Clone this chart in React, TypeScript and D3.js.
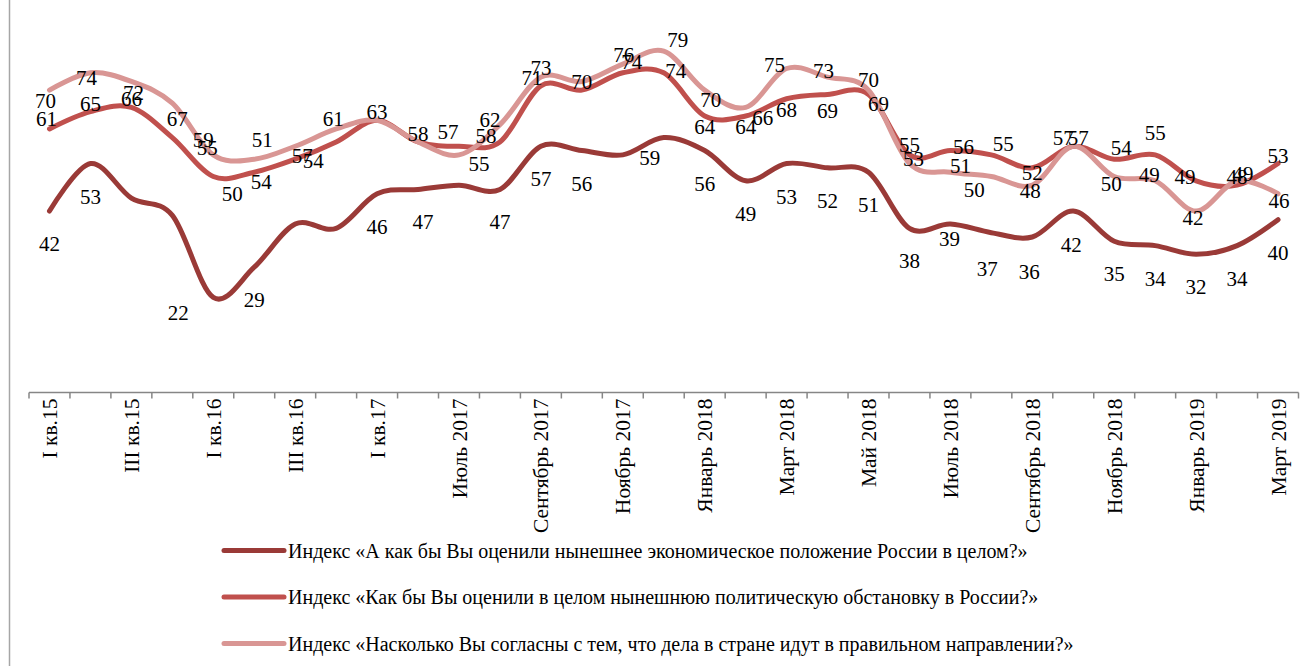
import React from "react";
import * as d3 from "d3";

const categories = [
  "I кв.15", "II кв.15", "III кв.15", "IV кв.15", "I кв.16", "II кв.16", "III кв.16", "IV кв.16",
  "I кв.17", "II кв.17", "Июль 2017", "Август 2017", "Сентябрь 2017", "Октябрь 2017", "Ноябрь 2017",
  "Декабрь 2017", "Январь 2018", "Февраль 2018", "Март 2018", "Апрель 2018", "Май 2018", "Июнь 2018",
  "Июль 2018", "Август 2018", "Сентябрь 2018", "Октябрь 2018", "Ноябрь 2018", "Декабрь 2018",
  "Январь 2019", "Февраль 2019", "Март 2019",
];

const economyValues = [42, 53, 45, 41, 22, 29, 39, 38, 46, 47, 48, 47, 57, 56, 55, 59, 56, 49, 53, 52, 51, 38, 39, 37, 36, 42, 35, 34, 32, 34, 40];
const politicsValues = [61, 65, 66, 59, 50, 51, 54, 58, 63, 58, 57, 58, 71, 70, 74, 74, 64, 64, 68, 69, 69, 55, 56, 55, 52, 57, 54, 55, 49, 48, 53];
const directionValues = [70, 74, 72, 67, 55, 54, 57, 61, 63, 58, 55, 62, 73, 72, 76, 79, 70, 66, 75, 73, 70, 53, 51, 50, 48, 57, 50, 49, 42, 49, 46];

const seriesNames = [
  "Индекс «А как бы Вы оценили нынешнее экономическое положение России в целом?»",
  "Индекс «Как бы Вы оценили в целом нынешнюю политическую обстановку в России?»",
  "Индекс «Насколько Вы согласны с тем, что дела в стране идут в правильном направлении?»",
];

// label styling (relative nudges of value labels, and labels hidden in the original)
const economyLabelDefault: [number, number] = [0, 33];
const economyLabelNudge: Record<number, [number, number]> = {
  4: [-35, 16], 9: [5, 33], 15: [-14, 20], 22: [-1, 15], 23: [-4, 36], 24: [-3, 35], 25: [-2, 34],
};
const economyHidden = [2, 3, 6, 7, 10, 14];

const politicsLabelDefault: [number, number] = [0, -8];
const politicsLabelNudge: Record<number, [number, number]> = {
  0: [-3, -10], 3: [31, 2], 4: [19, 17], 5: [8, -32], 6: [18, 2], 10: [-11, -14], 11: [-14, -6],
  12: [-9, -8], 14: [9, -11], 15: [12, -2], 16: [0, 11], 17: [0, 11], 18: [0, 11], 19: [0, 17],
  20: [10, 10], 21: [0, -10], 22: [13, -4], 23: [12, -11], 24: [0, 5], 25: [-10, -8], 26: [7, -11],
  27: [0, -22], 28: [-11, -4],
};
const politicsHidden = [7];

const directionLabelDefault: [number, number] = [0, 8];
const directionLabelNudge: Record<number, [number, number]> = {
  0: [-4, 11], 1: [-4, 5], 2: [2, 12], 3: [5, 16], 4: [-6, -7], 5: [7, 23], 6: [7, 10], 7: [-3, -10],
  10: [20, 9], 11: [-10, -5], 12: [0, -9], 14: [1, -9], 15: [14, -11], 16: [6, 10], 17: [17, 11],
  18: [-12, -4], 19: [-4, -6], 20: [0, -10], 21: [4, -5], 22: [10, -6], 23: [-17, 13], 24: [-2, 6],
  25: [5, -8], 26: [-3, 7], 27: [-6, -6], 28: [-3, 7], 29: [6, -7], 30: [1, 7],
};
const directionHidden = [8, 9, 13];

const colors = ["#9a3a37", "#c0504d", "#d99694"];

const FONT = "'Liberation Serif', 'Times New Roman', serif";

export default function App() {
  const W = 1312;
  const H = 666;
  const plotLeft = 29;
  const plotRight = 1298.5;
  const y0 = 392.5;

  const x = d3
    .scaleBand<string>()
    .domain(categories)
    .range([plotLeft, plotRight])
    .paddingInner(0)
    .paddingOuter(0);
  const bw = x.bandwidth();
  const cx = (i: number) => (x(categories[i]) as number) + bw / 2;

  const y = d3.scaleLinear().domain([0, 90]).range([y0, y0 - 90 * 4.32]);

  const line = d3
    .line<number>()
    .x((_, i) => cx(i))
    .y((d) => y(d))
    .curve(d3.curveCardinal.tension(0));

  const series = [
    { values: economyValues, def: economyLabelDefault, nudge: economyLabelNudge, hidden: economyHidden },
    { values: politicsValues, def: politicsLabelDefault, nudge: politicsLabelNudge, hidden: politicsHidden },
    { values: directionValues, def: directionLabelDefault, nudge: directionLabelNudge, hidden: directionHidden },
  ];

  const tickPositions = d3.range(categories.length + 1).map((i) => plotLeft + i * bw);

  const legendY = [550.5, 597, 643.5];

  return (
    <svg
      width={W}
      height={H}
      style={{ position: "absolute", left: 0, top: 0, background: "#fff" }}
      fontFamily={FONT}
    >
      <rect x={0} y={0} width={W} height={H} fill="#fff" />
      <line x1={9.5} x2={9.5} y1={0} y2={H} stroke="#a6a6a6" strokeWidth={1.5} />

      {/* axis */}
      <line x1={plotLeft} x2={plotRight} y1={y0} y2={y0} stroke="#868686" strokeWidth={1.5} />
      {tickPositions.map((tx, i) => (
        <line key={"t" + i} x1={tx} x2={tx} y1={y0} y2={y0 + 6} stroke="#868686" strokeWidth={1.5} />
      ))}
      {categories.map((c, i) =>
        i % 2 === 0 ? (
          <text
            key={"c" + i}
            transform={`translate(${cx(i)},${y0 + 6}) rotate(-90)`}
            textAnchor="end"
            dy="0.35em"
            fontSize={21.5}
            fill="#000"
          >
            {c}
          </text>
        ) : null
      )}

      {/* lines */}
      {series.map((s, k) => (
        <path
          key={"l" + k}
          d={line(s.values) as string}
          fill="none"
          stroke={colors[k]}
          strokeWidth={5}
          strokeLinecap="round"
          strokeLinejoin="round"
        />
      ))}

      {/* labels */}
      {series.map((s, k) =>
        s.values.map((v, i) => {
          if (s.hidden.includes(i)) return null;
          const [dx, dy] = s.nudge[i] || s.def;
          return (
            <text
              key={`v${k}-${i}`}
              x={cx(i) + dx}
              y={y(v) + dy}
              textAnchor="middle"
              dominantBaseline="central"
              fontSize={21}
              fill="#000"
            >
              {v}
            </text>
          );
        })
      )}

      {/* legend */}
      {seriesNames.map((n, k) => (
        <g key={"lg" + k}>
          <line x1={224} x2={284} y1={legendY[k]} y2={legendY[k]} stroke={colors[k]} strokeWidth={5} strokeLinecap="round" />
          <text x={288} y={legendY[k]} dy="0.35em" fontSize={20} fill="#000">
            {n}
          </text>
        </g>
      ))}
    </svg>
  );
}
